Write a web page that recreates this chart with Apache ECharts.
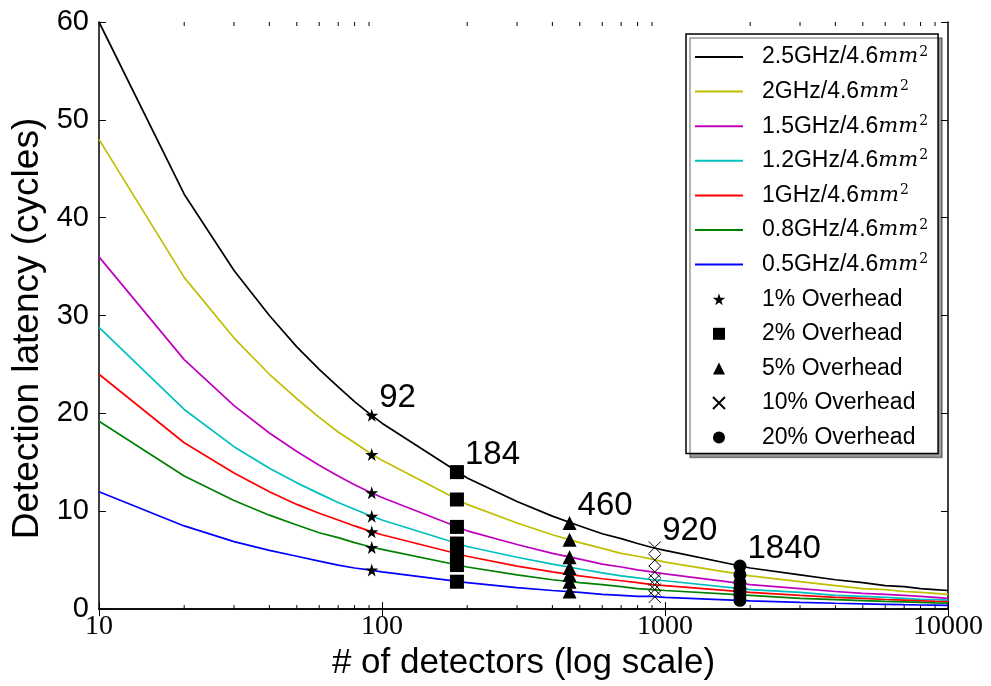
<!DOCTYPE html>
<html>
<head>
<meta charset="utf-8">
<script src="https://cdn.jsdelivr.net/npm/echarts@6/dist/echarts.min.js"></script>
<style>
html, body { margin: 0; padding: 0; background: #fff; }
#chart { width: 991px; height: 686px; }
</style>
</head>
<body>
<div id="chart"></div>
<script>
// detectors (x) where each curve was sampled
var detectors = [10, 20, 30, 40, 50, 60, 70, 80, 90, 100, 200, 300, 400, 500, 600, 700, 800, 900, 1000,
    2000, 3000, 4000, 5000, 6000, 7000, 8000, 9000, 10000];

var lat25 = [60, 42.4, 34.6, 30.0, 26.8, 24.5, 22.7, 21.2, 20.0, 19.0, 13.4, 11.0, 9.5, 8.5, 7.7, 7.2, 6.7, 6.3, 6.0,
    4.2, 3.5, 3.0, 2.7, 2.4, 2.3, 2.1, 2.0, 1.9];
var lat20 = [48, 33.9, 27.7, 24.0, 21.5, 19.6, 18.1, 17.0, 16.0, 15.2, 10.7, 8.8, 7.6, 6.8, 6.2, 5.7, 5.4, 5.1, 4.8,
    3.4, 2.8, 2.4, 2.1, 2.0, 1.8, 1.7, 1.6, 1.5];
var lat15 = [36, 25.5, 20.8, 18.0, 16.1, 14.7, 13.6, 12.7, 12.0, 11.4, 8.0, 6.6, 5.7, 5.1, 4.6, 4.3, 4.0, 3.8, 3.6,
    2.5, 2.1, 1.8, 1.6, 1.5, 1.4, 1.3, 1.2, 1.1];
var lat12 = [28.8, 20.4, 16.6, 14.4, 12.9, 11.8, 10.9, 10.2, 9.6, 9.1, 6.4, 5.3, 4.6, 4.1, 3.7, 3.4, 3.2, 3.0, 2.9,
    2.0, 1.7, 1.4, 1.3, 1.2, 1.1, 1.0, 0.96, 0.91];
var lat10 = [24, 17.0, 13.9, 12.0, 10.7, 9.8, 9.1, 8.5, 8.0, 7.6, 5.4, 4.4, 3.8, 3.4, 3.1, 2.9, 2.7, 2.5, 2.4,
    1.7, 1.4, 1.2, 1.1, 0.98, 0.91, 0.85, 0.8, 0.76];
var lat08 = [19.2, 13.6, 11.1, 9.6, 8.6, 7.8, 7.3, 6.8, 6.4, 6.1, 4.3, 3.5, 3.0, 2.7, 2.5, 2.3, 2.1, 2.0, 1.9,
    1.4, 1.1, 0.96, 0.86, 0.78, 0.73, 0.68, 0.64, 0.61];
var lat05 = [12, 8.5, 6.9, 6.0, 5.4, 4.9, 4.5, 4.2, 4.0, 3.8, 2.7, 2.2, 1.9, 1.7, 1.5, 1.4, 1.3, 1.3, 1.2,
    0.85, 0.69, 0.6, 0.54, 0.49, 0.45, 0.42, 0.4, 0.38];

var freqNames = ['2.5GHz', '2GHz', '1.5GHz', '1.2GHz', '1GHz', '0.8GHz', '0.5GHz'];
var freqColors = ['#000000', '#bfbf00', '#bf00bf', '#00bfbf', '#ff0000', '#008000', '#0000ff'];
var freqData = [lat25, lat20, lat15, lat12, lat10, lat08, lat05];

// overhead markers: detector count and latency of each curve there
var overheadNames = ['1% Overhead', '2% Overhead', '5% Overhead', '10% Overhead', '20% Overhead'];
var overheadX = [92, 184, 460, 920, 1840];
var overheadY = [
    [19.8, 15.8, 11.9, 9.5, 7.9, 6.3, 4.0],
    [14.0, 11.2, 8.4, 6.7, 5.6, 4.5, 2.8],
    [8.8, 7.1, 5.3, 4.2, 3.5, 2.8, 1.8],
    [6.3, 5.0, 3.8, 3.0, 2.5, 2.0, 1.25],
    [4.4, 3.5, 2.7, 2.1, 1.8, 1.4, 0.9]
];

var minorTicks = [20, 30, 40, 50, 60, 70, 80, 90, 200, 300, 400, 500, 600, 700, 800, 900,
    2000, 3000, 4000, 5000, 6000, 7000, 8000, 9000];

var starPath = 'path://M50,0L61,35L98,35L68,57L79,91L50,70L21,91L32,57L2,35L39,35Z';
var crossPath = 'path://M0,0L10,10M10,0L0,10';
var squarePath = 'path://M0,0L10,0L10,10L0,10Z';
var trianglePath = 'path://M5,0L10,10L0,10Z';
var linePath = 'path://M0,0L48,0L48,2L0,2Z';
var symbols = [starPath, squarePath, trianglePath, crossPath, 'circle'];
var symbolSizes = [13, 14, 14, 12, 13];

var chart = echarts.init(document.getElementById('chart'));

var series = [];
freqNames.forEach(function (name, i) {
    series.push({
        name: name + '/4.6mm2',
        type: 'line',
        data: detectors.map(function (d, j) { return [d, freqData[i][j]]; }),
        showSymbol: false,
        symbol: 'none',
        lineStyle: { color: freqColors[i], width: 1.7 },
        itemStyle: { color: freqColors[i] },
        z: 2
    });
});

overheadNames.forEach(function (name, k) {
    var isCross = k === 3;
    series.push({
        name: name,
        type: 'scatter',
        symbol: symbols[k],
        symbolSize: symbolSizes[k],
        itemStyle: isCross
            ? { color: 'rgba(0,0,0,0)', borderColor: '#000', borderWidth: 1, opacity: 1 }
            : { color: '#000', opacity: 1 },
        data: overheadY[k].map(function (v, j) {
            var item = { value: [overheadX[k], v] };
            if (j === 0) {
                item.label = {
                    show: true,
                    formatter: String(overheadX[k]),
                    position: 'right',
                    distance: 1,
                    offset: [0, -17],
                    fontSize: 33,
                    fontFamily: 'Liberation Sans',
                    color: '#000'
                };
            }
            return item;
        }),
        z: 5
    });
});

// minor ticks of the log axis, bottom and top, pointing inward
series.push({
    type: 'custom',
    silent: true,
    clip: false,
    data: minorTicks,
    encode: { x: 0 },
    renderItem: function (params, api) {
        var v = api.value(0);
        var b = api.coord([v, 0]);
        var t = api.coord([v, 60]);
        return {
            type: 'group',
            children: [
                { type: 'line', shape: { x1: b[0], y1: b[1], x2: b[0], y2: b[1] - 4 }, style: { stroke: '#000', lineWidth: 1 } },
                { type: 'line', shape: { x1: t[0], y1: t[1], x2: t[0], y2: t[1] + 4 }, style: { stroke: '#000', lineWidth: 1 } }
            ]
        };
    },
    z: 6
});

var legendData = freqNames.map(function (n) {
    return { name: n + '/4.6mm2', icon: linePath };
}).concat(overheadNames.map(function (n, k) {
    return { name: n, icon: symbols[k] };
}));

var option = {
    animation: false,
    backgroundColor: '#fff',
    grid: { left: 99, right: 43, top: 22, bottom: 76 },
    legend: {
        data: legendData,
        orient: 'vertical',
        left: 686,
        top: 34,
        padding: [10, 10, 3, 9],
        itemWidth: 48,
        itemHeight: 12,
        itemGap: 8.6,
        backgroundColor: '#fff',
        borderColor: '#000',
        borderWidth: 1.5,
        borderRadius: 0,
        shadowColor: 'rgba(0,0,0,0.4)',
        shadowBlur: 0,
        shadowOffsetX: 4,
        shadowOffsetY: 4,
        selectedMode: false,
        textStyle: {
            fontFamily: 'Liberation Sans',
            fontSize: 23,
            lineHeight: 26,
            color: '#000',
            padding: [0, 0, 0, 14],
            rich: {
                n: { fontFamily: 'Liberation Sans', fontSize: 23, lineHeight: 26, color: '#000' },
                m: { fontFamily: 'DejaVu Serif', fontStyle: 'italic', fontSize: 21, lineHeight: 26, color: '#000' },
                s: { fontFamily: 'DejaVu Serif', fontSize: 14, lineHeight: 26, color: '#000', padding: [0, 0, 10, 1] }
            }
        },
        formatter: function (name) {
            if (name.indexOf('/4.6mm2') > 0) {
                return '{n|' + name.replace('mm2', '') + '}{m|mm}{s|2}';
            }
            return name;
        }
    },
    xAxis: [{
        type: 'log',
        logBase: 10,
        min: 10,
        max: 10000,
        name: '# of detectors (log scale)',
        nameLocation: 'middle',
        nameGap: 32,
        nameTextStyle: { fontFamily: 'Liberation Sans', fontSize: 35, color: '#000' },
        axisLine: { lineStyle: { color: '#000', width: 1.5 } },
        axisTick: { inside: true, length: 7, lineStyle: { color: '#000' } },
        axisLabel: {
            fontFamily: 'Liberation Serif', fontSize: 28, color: '#000', margin: 4,
            formatter: function (v) { return String(Math.round(v)); }
        },
        splitLine: { show: false }
    }, {
        type: 'log',
        logBase: 10,
        min: 10,
        max: 10000,
        position: 'top',
        axisLine: { lineStyle: { color: '#000', width: 1.5 } },
        axisTick: { inside: true, length: 7, lineStyle: { color: '#000' } },
        axisLabel: { show: false },
        splitLine: { show: false }
    }],
    yAxis: [{
        type: 'value',
        min: 0,
        max: 60,
        interval: 10,
        name: 'Detection latency (cycles)',
        nameLocation: 'middle',
        nameGap: 52,
        nameTextStyle: { fontFamily: 'Liberation Sans', fontSize: 37, color: '#000', padding: [0, 26, 0, 0] },
        axisLine: { show: true, lineStyle: { color: '#000', width: 1.5 } },
        axisTick: { show: true, inside: true, length: 7, lineStyle: { color: '#000' } },
        axisLabel: { fontFamily: 'Liberation Sans', fontSize: 29, color: '#000', margin: 10 },
        splitLine: { show: false }
    }, {
        type: 'value',
        min: 0,
        max: 60,
        interval: 10,
        position: 'right',
        axisLine: { show: true, lineStyle: { color: '#000', width: 1.5 } },
        axisTick: { show: true, inside: true, length: 7, lineStyle: { color: '#000' } },
        axisLabel: { show: false },
        splitLine: { show: false }
    }],
    series: series
};

chart.setOption(option);
</script>
</body>
</html>
